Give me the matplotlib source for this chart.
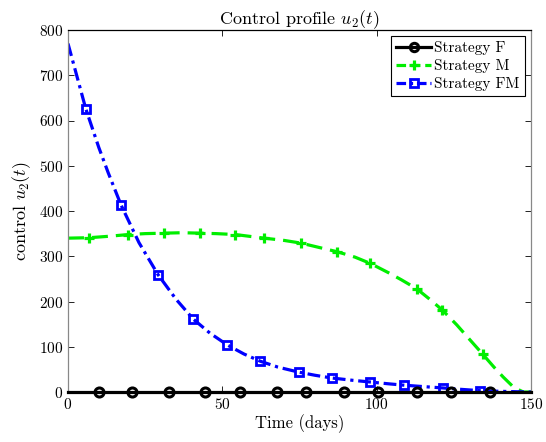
import matplotlib
matplotlib.use("Agg")
import matplotlib.pyplot as plt

plt.rcParams['font.family'] = 'serif'
plt.rcParams['font.serif'] = ['cmr10', 'DejaVu Serif']
plt.rcParams['mathtext.fontset'] = 'cm'
plt.rcParams['axes.formatter.use_mathtext'] = True

# Strategy F: zero control
t_f = [0, 150]
u_f = [0, 0]
t_f_mk = [9.9, 20.7, 32.6, 44.3, 55.8, 67.7, 77.2, 89.4, 100.4, 113, 124.2, 136.7]
u_f_mk = [0] * len(t_f_mk)

# Strategy M
t_m = [0, 6.9, 13, 19.6, 25, 31, 37, 42.9, 48, 54.2, 60, 63.6, 70, 75.5, 81, 87.2,
       93, 98, 104, 108, 113, 117, 121.3, 126, 130, 134.3, 138, 141, 144, 146, 147.5, 150]
u_m = [340, 341, 344, 348, 350, 351, 352, 351, 350, 348, 343, 340, 335, 329, 320, 310,
       298, 284, 263, 248, 228, 206, 181, 148, 117, 84, 55, 33, 13, 5, 0, 0]
t_m_mk = [6.9, 19.6, 31, 42.9, 54.2, 63.6, 75.5, 87.2, 98, 113, 121.3, 134.3]
u_m_mk = [341, 348, 351, 351, 348, 340, 329, 310, 284, 228, 181, 84]

# Strategy FM
t_fm = [0, 3, 5.8, 10, 13, 17.2, 23, 29.2, 35, 40.6, 46, 51.6, 57, 62.3, 68, 74.7,
        80, 85.4, 92, 98, 104, 109, 115, 121.4, 127, 133.4, 140, 146, 150]
u_fm = [770, 695, 625, 540, 485, 413, 330, 259, 205, 161, 130, 104, 84, 68, 55, 44,
        37, 31, 26, 22, 18, 15, 12, 9, 6, 3, 1.5, 0.5, 0]
t_fm_mk = [5.8, 17.2, 29.2, 40.6, 51.6, 62.3, 74.7, 85.4, 98, 109, 121.4, 133.4]
u_fm_mk = [625, 413, 259, 161, 104, 68, 44, 31, 22, 15, 9, 3]

green = '#00ee00'
blue = '#0000ff'

fig = plt.figure(figsize=(5.46, 4.42), dpi=100)
ax = fig.add_axes([68 / 546, 1 - 392 / 442, 463 / 546, 362 / 442])

lw = 2.3
ax.plot(t_f, u_f, '-', color='black', lw=lw, clip_on=False, zorder=5)
ax.plot(t_f_mk, u_f_mk, 'o', color='black', mfc='none', mew=2.2, ms=6.5,
        clip_on=False, zorder=6)
ax.plot(t_m, u_m, '--', color=green, lw=lw, dashes=(5, 2.5))
ax.plot(t_m_mk, u_m_mk, '+', color=green, mew=2.3, ms=7)
ax.plot(t_fm, u_fm, '-.', color=blue, lw=lw, dashes=(4, 1.5, 1, 1.5))
ax.plot(t_fm_mk, u_fm_mk, 's', color=blue, mfc='none', mew=2, ms=6)

# legend proxies with marker in middle
hf, = ax.plot([], [], '-o', color='black', mfc='none', mew=2.2, ms=6, lw=lw)
hm, = ax.plot([], [], '--+', color=green, mew=2.3, ms=7, lw=lw, dashes=(3, 1.5))
hfm, = ax.plot([], [], '-.s', color=blue, mfc='none', mew=2, ms=5.5, lw=lw,
               dashes=(3, 1.2, 1, 1.2))
leg = ax.legend([hf, hm, hfm], ['Strategy F', 'Strategy M', 'Strategy FM'],
                loc='upper right', fontsize=11, fancybox=False, framealpha=1,
                edgecolor='black', handlelength=2.3, borderpad=0.35,
                labelspacing=0.25, handletextpad=0.2, borderaxespad=0.4)
leg.get_frame().set_linewidth(0.8)

ax.set_xlim(0, 150)
ax.set_ylim(0, 800)
ax.set_xticks([0, 50, 100, 150])
ax.set_yticks(range(0, 801, 100))
ax.tick_params(direction='in', top=True, right=True, labelsize=11, length=4, width=0.6)
ax.spines['top'].set_color('black')
ax.spines['bottom'].set_color('black')
ax.spines['left'].set_color('#888888')
ax.spines['right'].set_color('#888888')
for s in ax.spines.values():
    s.set_linewidth(0.9)

ax.set_xlabel('Time (days)', fontsize=12, labelpad=2)
ax.set_ylabel('control $u_2(t)$', fontsize=13, labelpad=4)
ax.set_title('Control profile $u_2(t)$', fontsize=13, pad=4)

fig.savefig('out.png', dpi=100)
